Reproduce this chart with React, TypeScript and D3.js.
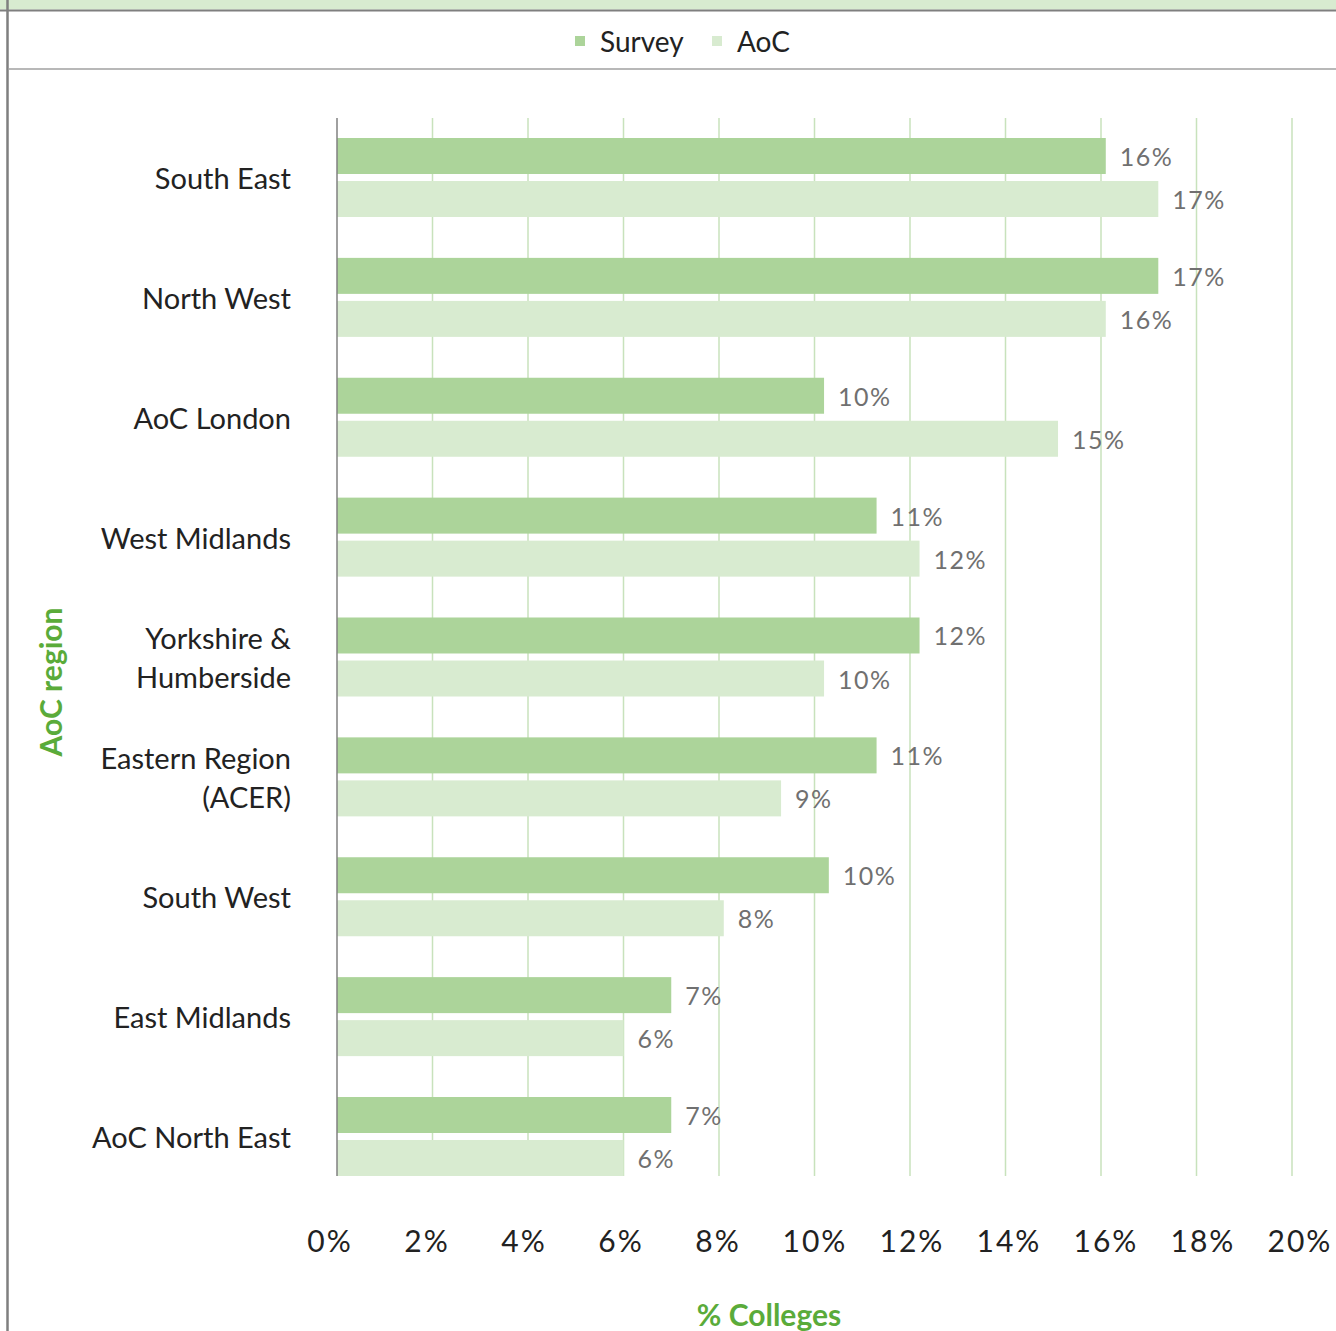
import React from "react";
import * as d3 from "d3";

const categories = [
  "South East",
  "North West",
  "AoC London",
  "West Midlands",
  "Yorkshire & Humberside",
  "Eastern Region (ACER)",
  "South West",
  "East Midlands",
  "AoC North East",
];
const categoryLines = [
  ["South East"],
  ["North West"],
  ["AoC London"],
  ["West Midlands"],
  ["Yorkshire &", "Humberside"],
  ["Eastern Region", "(ACER)"],
  ["South West"],
  ["East Midlands"],
  ["AoC North East"],
];
const seriesNames = ["Survey", "AoC"];
const surveyValues = [16.1, 17.2, 10.2, 11.3, 12.2, 11.3, 10.3, 7.0, 7.0];
const aocValues = [17.2, 16.1, 15.1, 12.2, 10.2, 9.3, 8.1, 6.0, 6.0];
const xTicks = [0, 2, 4, 6, 8, 10, 12, 14, 16, 18, 20];

const W = 1336;
const H = 1331;
const colors = ["#acd49a", "#d8ebd0"];
const FONT = "Lato, 'Open Sans', sans-serif";

export default function App() {
  const x = d3.scaleLinear().domain([0, 20]).range([337, 1292]);
  const xLabel = d3.scaleLinear().domain([0, 20]).range([330, 1300]);
  const y = d3.scaleBand<string>().domain(categories).range([138, 1176]).paddingInner(0.341).paddingOuter(0);
  const ySub = d3.scaleBand<string>().domain(seriesNames).range([0, y.bandwidth()]).paddingInner(0.163);
  const values = [surveyValues, aocValues];
  const fmt = (v: number) => `${Math.round(v)}%`;

  return (
    <div style={{ position: "absolute", left: 0, top: 0 }}>
      <svg width={W} height={H} style={{ display: "block", fontFamily: FONT }}>
        <rect x={0} y={0} width={W} height={H} fill="#fff" />
        {/* top band and borders */}
        <rect x={0} y={0} width={W} height={9.5} fill="#d8ebd0" />
        <line x1={0} x2={W} y1={10.5} y2={10.5} stroke="#7f7f7f" strokeWidth={2} />
        <line x1={7.5} x2={7.5} y1={0} y2={H} stroke="#7f7f7f" strokeWidth={2.5} />
        <line x1={8} x2={W} y1={69} y2={69} stroke="#a0a0a0" strokeWidth={1.5} />

        {/* legend */}
        {seriesNames.map((s, i) => {
          const lx = i === 0 ? 575 : 712;
          return (
            <g key={s}>
              <rect x={lx} y={36} width={10} height={10} fill={colors[i]} />
              <text x={lx + 25} y={41} dominantBaseline="central" fontSize={28} fill="#222">
                {s}
              </text>
            </g>
          );
        })}

        {/* gridlines */}
        {xTicks.slice(1).map((t) => (
          <line key={t} x1={x(t)} x2={x(t)} y1={118} y2={1176} stroke="#c8e2bc" strokeWidth={1.5} />
        ))}

        {/* bars */}
        {categories.map((c, ci) => (
          <g key={c} transform={`translate(0,${y(c)})`}>
            {seriesNames.map((s, si) => {
              const v = values[si][ci];
              const by = ySub(s)!;
              return (
                <g key={s}>
                  <rect x={x(0)} y={by} width={x(v) - x(0)} height={ySub.bandwidth()} fill={colors[si]} />
                  <text
                    x={x(v) + 14}
                    y={by + ySub.bandwidth() / 2}
                    dominantBaseline="central"
                    fontSize={25}
                    fill="#707070"
                    letterSpacing={1.5}
                  >
                    {fmt(v)}
                  </text>
                </g>
              );
            })}
          </g>
        ))}

        {/* axis line */}
        <line x1={x(0)} x2={x(0)} y1={118} y2={1176} stroke="#808080" strokeWidth={1.5} />

        {/* category labels */}
        {categories.map((c, ci) => {
          const lines = categoryLines[ci];
          const cy = y(c)! + y.bandwidth() / 2;
          const lh = 39;
          return (
            <text key={c} x={291} textAnchor="end" fontSize={29} fill="#222">
              {lines.map((l, li) => (
                <tspan key={li} x={291} y={cy + (li - (lines.length - 1) / 2) * lh} dominantBaseline="central">
                  {l}
                </tspan>
              ))}
            </text>
          );
        })}

        {/* x tick labels */}
        {xTicks.map((t) => (
          <text
            key={t}
            x={xLabel(t)}
            y={1240}
            textAnchor="middle"
            dominantBaseline="central"
            fontSize={30}
            fill="#222"
            letterSpacing={2}
          >
            {`${t}%`}
          </text>
        ))}

        {/* axis titles */}
        <text x={769} y={1314} textAnchor="middle" dominantBaseline="central" fontSize={30} fontWeight="bold" fill="#5aab3a">
          % Colleges
        </text>
        <text
          transform={`translate(50,682) rotate(-90)`}
          textAnchor="middle"
          dominantBaseline="central"
          fontSize={30}
          fontWeight="bold"
          fill="#5aab3a"
        >
          AoC region
        </text>
      </svg>
    </div>
  );
}
